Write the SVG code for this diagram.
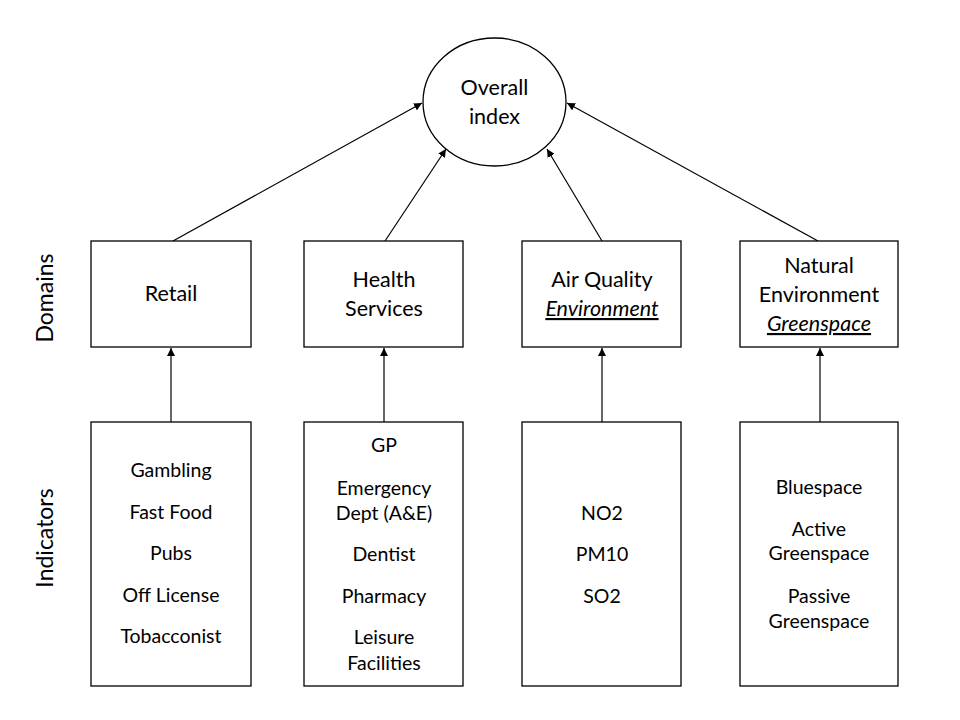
<svg xmlns="http://www.w3.org/2000/svg" width="960" height="720" viewBox="0 0 960 720">
<defs>
<marker id="ah" viewBox="0 0 10 10" refX="10" refY="5" markerWidth="8" markerHeight="8" markerUnits="userSpaceOnUse" orient="auto">
<path d="M0,0 L10,5 L0,10 Z" fill="#000"/>
</marker>
</defs>
<style>
.box{fill:#fff;stroke:#000;stroke-width:1.3}
.t{font-family:Lato,"Open Sans","Liberation Sans",sans-serif;font-size:19.5px;fill:#000;text-anchor:middle}
.d{font-size:21.5px}
.s{font-size:23px}
.u{font-style:italic;text-decoration:underline}
.c{stroke:#000;stroke-width:1.2;fill:none;marker-end:url(#ah)}
</style>
<rect width="960" height="720" fill="#fff"/>
<g id="connectors">
<line class="c" x1="173" y1="241" x2="422" y2="103"/>
<line class="c" x1="385" y1="241" x2="446" y2="149"/>
<line class="c" x1="602" y1="241" x2="547" y2="149"/>
<line class="c" x1="818" y1="241" x2="567" y2="103"/>
<line class="c" x1="171" y1="422" x2="171" y2="348"/>
<line class="c" x1="384" y1="422" x2="384" y2="348"/>
<line class="c" x1="602" y1="422" x2="602" y2="348"/>
<line class="c" x1="820" y1="422" x2="820" y2="348"/>
</g>
<g id="overall">
<ellipse class="box" cx="494.5" cy="102" rx="71.5" ry="64"/>
<text class="t d" x="494.5" y="95">Overall</text>
<text class="t d" x="494.5" y="124">index</text>
</g>
<g id="label-domains"><text class="t s" transform="translate(53,298) rotate(-90)">Domains</text></g>
<g id="label-indicators"><text class="t s" transform="translate(53,538) rotate(-90)">Indicators</text></g>
<g id="retail">
<rect class="box" x="91" y="241" width="160" height="106"/>
<text class="t d" x="171" y="301">Retail</text>
</g>
<g id="health">
<rect class="box" x="304" y="241" width="159" height="106"/>
<text class="t d" x="384" y="287">Health</text>
<text class="t d" x="384" y="316">Services</text>
</g>
<g id="air">
<rect class="box" x="522" y="241" width="159" height="106"/>
<text class="t d" x="602" y="287">Air Quality</text>
<text class="t d u" x="602" y="316">Environment</text>
</g>
<g id="natural">
<rect class="box" x="740" y="241" width="158" height="106"/>
<text class="t d" x="819" y="273">Natural</text>
<text class="t d" x="819" y="302">Environment</text>
<text class="t d u" x="819" y="331">Greenspace</text>
</g>
<g id="retail-ind">
<rect class="box" x="91" y="422" width="160" height="264"/>
<text class="t" x="171" y="477">Gambling</text>
<text class="t" x="171" y="519">Fast Food</text>
<text class="t" x="171" y="560">Pubs</text>
<text class="t" x="171" y="602">Off License</text>
<text class="t" x="171" y="643">Tobacconist</text>
</g>
<g id="health-ind">
<rect class="box" x="304" y="422" width="159" height="264"/>
<text class="t" x="384" y="452">GP</text>
<text class="t" x="384" y="495">Emergency</text>
<text class="t" x="384" y="520">Dept (A&amp;E)</text>
<text class="t" x="384" y="561">Dentist</text>
<text class="t" x="384" y="603">Pharmacy</text>
<text class="t" x="384" y="644">Leisure</text>
<text class="t" x="384" y="670">Facilities</text>
</g>
<g id="air-ind">
<rect class="box" x="522" y="422" width="159" height="264"/>
<text class="t" x="602" y="520">NO2</text>
<text class="t" x="602" y="561">PM10</text>
<text class="t" x="602" y="603">SO2</text>
</g>
<g id="natural-ind">
<rect class="box" x="740" y="422" width="158" height="264"/>
<text class="t" x="819" y="494">Bluespace</text>
<text class="t" x="819" y="536">Active</text>
<text class="t" x="819" y="560">Greenspace</text>
<text class="t" x="819" y="603">Passive</text>
<text class="t" x="819" y="628">Greenspace</text>
</g>
</svg>
